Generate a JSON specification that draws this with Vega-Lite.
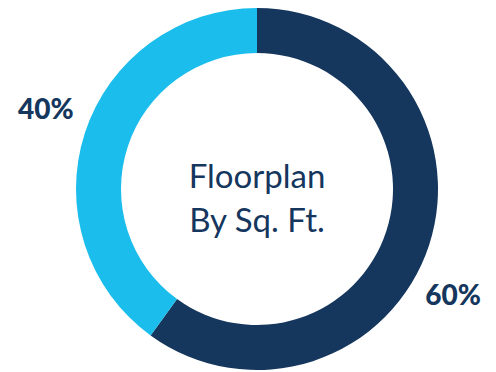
{
  "$schema": "https://vega.github.io/schema/vega-lite/v6.json",
  "width": 478,
  "height": 366,
  "autosize": "none",
  "padding": {"left": 18, "top": 6, "right": 0, "bottom": 0},
  "background": "white",
  "config": {"view": {"stroke": null}},
  "data": {"values": [
    {"label": "60%", "value": 60},
    {"label": "40%", "value": 40}
  ]},
  "encoding": {
    "theta": {"field": "value", "type": "quantitative", "stack": true},
    "order": {"field": "value", "type": "quantitative", "sort": "descending"}
  },
  "layer": [
    {
      "mark": {"type": "arc", "outerRadius": 181, "innerRadius": 136},
      "encoding": {
        "color": {"field": "label", "type": "nominal", "legend": null,
          "scale": {"domain": ["60%", "40%"], "range": ["#15365D", "#1ABDEC"]}}
      }
    },
    {
      "mark": {"type": "text", "radius": 222, "font": "Lato", "fontWeight": 900, "fontSize": 28, "color": "#15365D", "align": "center", "baseline": "alphabetic", "dx": 0, "dy": -1},
      "encoding": {"text": {"condition": {"test": "datum.label === '40%'", "field": "label"}, "value": ""}}
    },
    {
      "mark": {"type": "text", "radius": 222, "font": "Lato", "fontWeight": 900, "fontSize": 28, "color": "#15365D", "align": "center", "baseline": "alphabetic", "dx": -15, "dy": 47},
      "encoding": {"text": {"condition": {"test": "datum.label === '60%'", "field": "label"}, "value": ""}}
    },
    {
      "data": {"values": [{"title": "Floorplan\nBy Sq. Ft."}]},
      "mark": {"type": "text", "font": "Lato", "fontSize": 33, "color": "#15365D", "align": "center", "baseline": "alphabetic", "lineBreak": "\n", "lineHeight": 44, "dy": -1},
      "encoding": {"text": {"field": "title"}, "theta": null, "order": null}
    }
  ]
}
